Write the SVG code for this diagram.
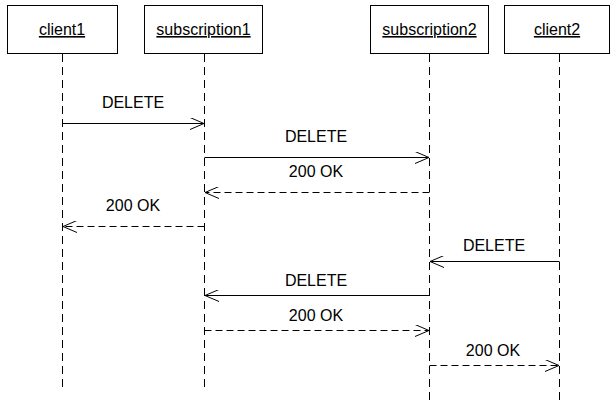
<svg xmlns="http://www.w3.org/2000/svg" width="611" height="409" viewBox="0 0 611 409">
  <style>
    .box { fill: #fff; stroke: #000; stroke-width: 1; }
    .name { font-family: "Liberation Sans", Arial, sans-serif; font-size: 16px; text-anchor: middle; text-decoration: underline; fill: #000; }
    .life { stroke: #000; stroke-width: 1; stroke-dasharray: 8 5; fill: none; }
    .msg { stroke: #000; stroke-width: 1; fill: none; marker-end: url(#open); }
    .ret { stroke-dasharray: 7 4; }
    .lbl { font-family: "Liberation Sans", Arial, sans-serif; font-size: 16px; text-anchor: middle; fill: #000; }
  </style>
  <defs>
    <marker id="open" viewBox="0 0 14 12" refX="14" refY="6" markerWidth="14" markerHeight="12" markerUnits="userSpaceOnUse" orient="auto">
      <path d="M0,0 L14,6 L0,12" fill="none" stroke="#000" stroke-width="1"/>
    </marker>
  </defs>
  <rect width="611" height="409" fill="#fff"/>

  <g id="client1">
    <rect class="box" x="7.5" y="5.5" width="110" height="48"/>
    <text class="name" x="62" y="35">client1</text>
    <line class="life" x1="62.5" y1="54" x2="62.5" y2="392"/>
  </g>
  <g id="subscription1">
    <rect class="box" x="144.5" y="5.5" width="118" height="48"/>
    <text class="name" x="203.5" y="35">subscription1</text>
    <line class="life" x1="204.5" y1="54" x2="204.5" y2="390"/>
  </g>
  <g id="subscription2">
    <rect class="box" x="370.5" y="5.5" width="118" height="48"/>
    <text class="name" x="429.5" y="35">subscription2</text>
    <line class="life" x1="429.5" y1="54" x2="429.5" y2="405"/>
  </g>
  <g id="client2">
    <rect class="box" x="504.5" y="5.5" width="105" height="48"/>
    <text class="name" x="557" y="35">client2</text>
    <line class="life" x1="559.5" y1="54" x2="559.5" y2="405"/>
  </g>

  <g id="connectors">
    <line class="msg" x1="62.5" y1="123.5" x2="204" y2="123.5"/>
    <text class="lbl" x="133" y="108">DELETE</text>

    <line class="msg" x1="204.5" y1="157.5" x2="429" y2="157.5"/>
    <text class="lbl" x="316" y="142">DELETE</text>

    <line class="msg ret" x1="429.5" y1="192.5" x2="205" y2="192.5"/>
    <text class="lbl" x="316" y="177">200 OK</text>

    <line class="msg ret" x1="204.5" y1="226.5" x2="63" y2="226.5"/>
    <text class="lbl" x="133" y="211">200 OK</text>

    <line class="msg" x1="559.5" y1="261.5" x2="430" y2="261.5"/>
    <text class="lbl" x="494" y="251">DELETE</text>

    <line class="msg" x1="429.5" y1="295.5" x2="205" y2="295.5"/>
    <text class="lbl" x="316" y="286">DELETE</text>

    <line class="msg ret" x1="204.5" y1="330.5" x2="429" y2="330.5"/>
    <text class="lbl" x="316" y="321">200 OK</text>

    <line class="msg ret" x1="429.5" y1="365.5" x2="559" y2="365.5"/>
    <text class="lbl" x="493" y="356">200 OK</text>
  </g>
</svg>
